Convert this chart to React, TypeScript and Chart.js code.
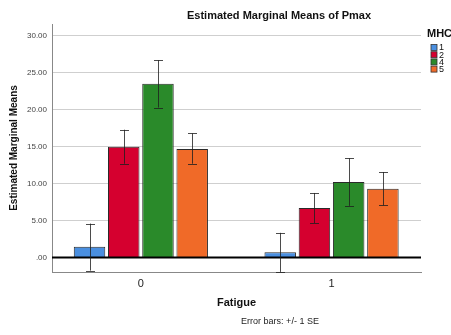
import React, { useEffect, useRef } from "react";
import { Chart, registerables } from "chart.js";

Chart.register(...registerables);

const categories = ["0", "1"];
const seriesNames = ["1", "2", "4", "5"];
const seriesColors = ["#4a8fe0", "#d5002f", "#2a8a2a", "#f06a28"];
const means = [
  [1.45, 0.73],
  [15.0, 6.7],
  [23.5, 10.23],
  [14.7, 9.32],
];
const lowerSE = [
  [-1.76, -1.94],
  [12.7, 4.67],
  [20.3, 7.0],
  [12.7, 7.06],
];
const upperSE = [
  [4.6, 3.35],
  [17.3, 8.74],
  [26.7, 13.43],
  [16.8, 11.58],
];
const titleText = "Estimated Marginal Means of Pmax";
const yTitle = "Estimated Marginal Means";
const xTitle = "Fatigue";
const legendTitle = "MHC";
const footnote = "Error bars: +/- 1 SE";

const FONT = "'Liberation Sans', Arial, sans-serif";

const overlayPlugin = {
  id: "overlay",
  afterDatasetsDraw(chart: any) {
    const ctx = chart.ctx;
    const y = chart.scales.y;
    const area = chart.chartArea;
    ctx.save();
    const y0 = y.getPixelForValue(0);
    ctx.strokeStyle = "#000";
    ctx.lineWidth = 2;
    ctx.beginPath();
    ctx.moveTo(area.left, y0);
    ctx.lineTo(area.right, y0);
    ctx.stroke();
    ctx.lineWidth = 1;
    ctx.strokeStyle = "rgba(30,30,30,0.8)";
    chart.data.datasets.forEach((ds: any, i: number) => {
      const meta = chart.getDatasetMeta(i);
      meta.data.forEach((el: any, j: number) => {
        const x = Math.round(el.x) + 0.5;
        const yl = y.getPixelForValue(lowerSE[i][j]);
        const yu = y.getPixelForValue(upperSE[i][j]);
        const cap = 4.5;
        ctx.beginPath();
        ctx.moveTo(x, yl);
        ctx.lineTo(x, yu);
        ctx.moveTo(x - cap, Math.round(yl) + 0.5);
        ctx.lineTo(x + cap, Math.round(yl) + 0.5);
        ctx.moveTo(x - cap, Math.round(yu) + 0.5);
        ctx.lineTo(x + cap, Math.round(yu) + 0.5);
        ctx.stroke();
      });
    });
    ctx.restore();
  },
  afterDraw(chart: any) {
    const ctx = chart.ctx;
    ctx.save();
    ctx.fillStyle = "#111";
    ctx.textBaseline = "middle";
    ctx.textAlign = "center";
    ctx.font = `bold 11px ${FONT}`;
    ctx.fillText(titleText, 279, 16);
    ctx.font = `9px ${FONT}`;
    ctx.fillStyle = "#222";
    ctx.fillText(footnote, 280, 322);
    ctx.textAlign = "left";
    ctx.fillStyle = "#111";
    ctx.font = `bold 11px ${FONT}`;
    ctx.fillText(legendTitle, 427, 34);
    ctx.font = `9px ${FONT}`;
    seriesNames.forEach((name, i) => {
      const cy = 47.5 + i * 7.2;
      ctx.fillStyle = seriesColors[i];
      ctx.fillRect(431, cy - 3, 6, 6);
      ctx.strokeStyle = "#333";
      ctx.lineWidth = 0.8;
      ctx.strokeRect(431, cy - 3, 6, 6);
      ctx.fillStyle = "#111";
      ctx.fillText(name, 439, cy + 0.5);
    });
    ctx.restore();
  },
};

export default function App() {
  const ref = useRef<HTMLCanvasElement>(null);
  useEffect(() => {
    const canvas = ref.current;
    if (!canvas) return;
    const chart = new Chart(canvas, {
      type: "bar",
      data: {
        datasets: seriesNames.map((name, i) => ({
          label: name,
          data: categories.map((c, j) => ({ x: j, y: means[i][j] })),
          backgroundColor: seriesColors[i],
          borderColor: "#2a2a2a",
          borderWidth: 1,
          categoryPercentage: 0.718,
          barPercentage: 0.92,
        })),
      },
      options: {
        animation: false,
        responsive: false,
        devicePixelRatio: 1,
        layout: { padding: { top: 24, right: 30, left: 0, bottom: 0 } },
        plugins: {
          legend: { display: false },
          title: { display: false },
          tooltip: { enabled: false },
        },
        scales: {
          x: {
            type: "linear",
            offset: false,
            min: -0.466,
            max: 1.469,
            afterFit(scale: any) {
              scale.height = 63;
            },
            grid: { display: false, drawTicks: false, offset: false },
            border: { display: true, color: "#888", width: 1 },
            ticks: {
              stepSize: 1,
              includeBounds: false,
              autoSkip: false,
              maxRotation: 0,
              padding: 5,
              color: "#222",
              font: { family: FONT, size: 11 },
              callback: (v: any) => {
                const k = Math.round(Number(v));
                return Math.abs(Number(v) - k) < 1e-6 ? categories[k] ?? "" : "";
              },
            },
            title: {
              display: true,
              text: xTitle,
              color: "#111",
              font: { family: FONT, size: 11, weight: "bold" },
              padding: { top: 0, bottom: 25 },
            },
          },
          y: {
            type: "linear",
            min: -1.95,
            max: 31.6,
            afterFit(scale: any) {
              scale.width = 52;
            },
            grid: {
              drawTicks: false,
              color: "#cfcfcf",
              lineWidth: 1,
            },
            border: { display: true, color: "#888", width: 1 },
            ticks: {
              stepSize: 5,
              includeBounds: false,
              padding: 5,
              color: "#444",
              font: { family: FONT, size: 8 },
              callback: (v: any) => (v === 0 ? ".00" : Number(v).toFixed(2)),
            },
            title: {
              display: true,
              text: yTitle,
              color: "#111",
              font: { family: FONT, size: 10, weight: "bold" },
              padding: { top: 8, bottom: 0 },
            },
          },
        },
      },
      plugins: [overlayPlugin],
    } as any);
    return () => chart.destroy();
  }, []);
  return (
    <div style={{ position: "fixed", left: 0, top: 0, width: 451, height: 335, background: "#fff" }}>
      <canvas ref={ref} width={451} height={335} style={{ display: "block" }} />
    </div>
  );
}
